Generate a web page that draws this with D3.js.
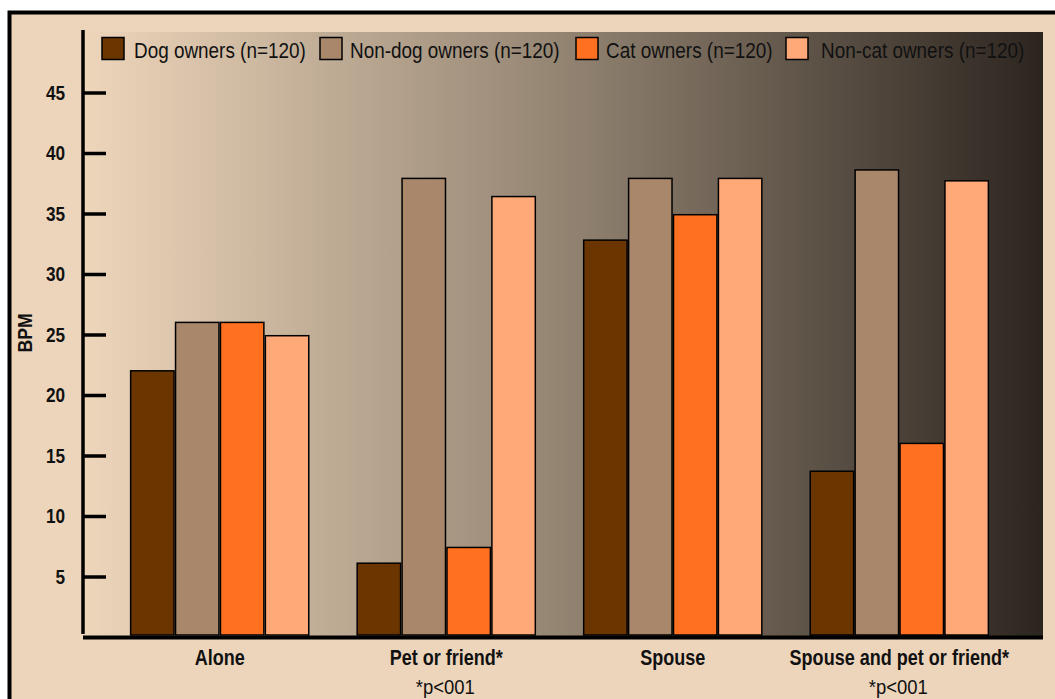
<!DOCTYPE html>
<html><head><meta charset="utf-8">
<script src="https://cdn.jsdelivr.net/npm/d3@7"></script>
<style>
html,body{margin:0;padding:0;background:#fff;}
svg{display:block;}
text{font-family:"Liberation Sans","Arimo","Helvetica",Arial,sans-serif;}
</style></head>
<body>
<script>
const categories = ["Alone", "Pet or friend*", "Spouse", "Spouse and pet or friend*"];
const seriesNames = ["Dog owners (n=120)", "Non-dog owners (n=120)", "Cat owners (n=120)", "Non-cat owners (n=120)"];
const dogOwners = [22, 6.1, 32.8, 13.7];
const nonDogOwners = [26, 37.9, 37.9, 38.6];
const catOwners = [26, 7.4, 34.9, 16];
const nonCatOwners = [24.9, 36.4, 37.9, 37.7];
const yTicks = [5, 10, 15, 20, 25, 30, 35, 40, 45];
const footnotes = ["", "*p<001", "", "*p<001"];
const colors = ["#6B3500", "#A8876A", "#FF7020", "#FFA878"];

(function () {
const series = [dogOwners, nonDogOwners, catOwners, nonCatOwners];
const W = 1055, H = 699;
const svg = d3.select("body").append("svg").attr("width", W).attr("height", H);

function label(parent, px, py, txt, opts) {
  const sx = opts.sx || 0.85;
  const rot = opts.rot ? ` rotate(${opts.rot})` : "";
  return parent.append("text")
    .attr("transform", `translate(${px},${py})${rot} scale(${sx},1)`)
    .attr("text-anchor", opts.anchor || "start")
    .attr("font-size", opts.size || 20)
    .attr("font-weight", opts.bold ? "bold" : "normal")
    .attr("fill", "#111")
    .text(txt);
}

// outer frame
svg.append("rect").attr("x", 9.5).attr("y", 12.5).attr("width", W + 20).attr("height", H + 20)
  .attr("fill", "#EDD5BB").attr("stroke", "#000").attr("stroke-width", 4);

const defs = svg.append("defs");
const grad = defs.append("linearGradient").attr("id", "bg").attr("x1", "0").attr("x2", "1").attr("y1", "0").attr("y2", "0");
grad.append("stop").attr("offset", "0").attr("stop-color", "#EED6BB");
grad.append("stop").attr("offset", "0.5").attr("stop-color", "#938472");
grad.append("stop").attr("offset", "1").attr("stop-color", "#2C251F");

const pLeft = 83, pRight = 1043, pTop = 32, y0px = 637;
svg.append("rect").attr("x", pLeft).attr("y", pTop).attr("width", pRight - pLeft).attr("height", y0px - pTop)
  .attr("fill", "url(#bg)");

const x = d3.scaleBand().domain(categories).range([pLeft, 1036]).padding(0.207);
const xs = d3.scaleBand().domain(d3.range(series.length)).range([0, x.bandwidth()]);
const y = d3.scaleLinear().domain([0, 50]).range([y0px, pTop]);

// bars
const g = svg.append("g");
categories.forEach((c, i) => {
  series.forEach((s, j) => {
    g.append("rect")
      .attr("x", x(c) + xs(j) + 0.75)
      .attr("y", y(s[i]))
      .attr("width", xs.bandwidth() - 1.5)
      .attr("height", y(0) - y(s[i]) - 2)
      .attr("fill", colors[j]).attr("stroke", "#000").attr("stroke-width", 1.5);
  });
});

// y axis
const yAxis = d3.axisRight(y).tickValues(yTicks).tickSize(23).tickFormat("");
const ya = svg.append("g").attr("transform", `translate(${pLeft},0)`).call(yAxis);
ya.select(".domain").remove();
ya.selectAll(".tick line").attr("stroke", "#000").attr("stroke-width", 3.5);
svg.append("line").attr("x1", pLeft).attr("x2", pLeft).attr("y1", 30).attr("y2", 634)
  .attr("stroke", "#000").attr("stroke-width", 3.5);
yTicks.forEach(t => {
  label(svg, 65, y(t) + 7, t, { anchor: "end", size: 20, bold: true, sx: 0.86 });
});
label(svg, 32, 333, "BPM", { anchor: "middle", size: 20, bold: true, sx: 0.88, rot: -90 });

// x axis
svg.append("line").attr("x1", pLeft).attr("x2", pRight).attr("y1", 637.5).attr("y2", 637.5)
  .attr("stroke", "#000").attr("stroke-width", 4);
categories.forEach((c, i) => {
  label(svg, x(c) + x.bandwidth() / 2, 665, c, { anchor: "middle", size: 22, bold: true, sx: 0.82 });
  if (footnotes[i]) {
    label(svg, x(c) + x.bandwidth() / 2 - 1, 694, footnotes[i], { anchor: "middle", size: 21, sx: 0.88 });
  }
});

// legend
const legBox = [102, 320, 576, 786];
const legText = [134, 350, 606, 821];
seriesNames.forEach((n, j) => {
  svg.append("rect").attr("x", legBox[j]).attr("y", 37.5).attr("width", 22).attr("height", 22)
    .attr("fill", colors[j]).attr("stroke", "#000").attr("stroke-width", 1.5);
  label(svg, legText[j], 58, n, { size: 22, sx: 0.86 });
});
})();
</script>
</body></html>
